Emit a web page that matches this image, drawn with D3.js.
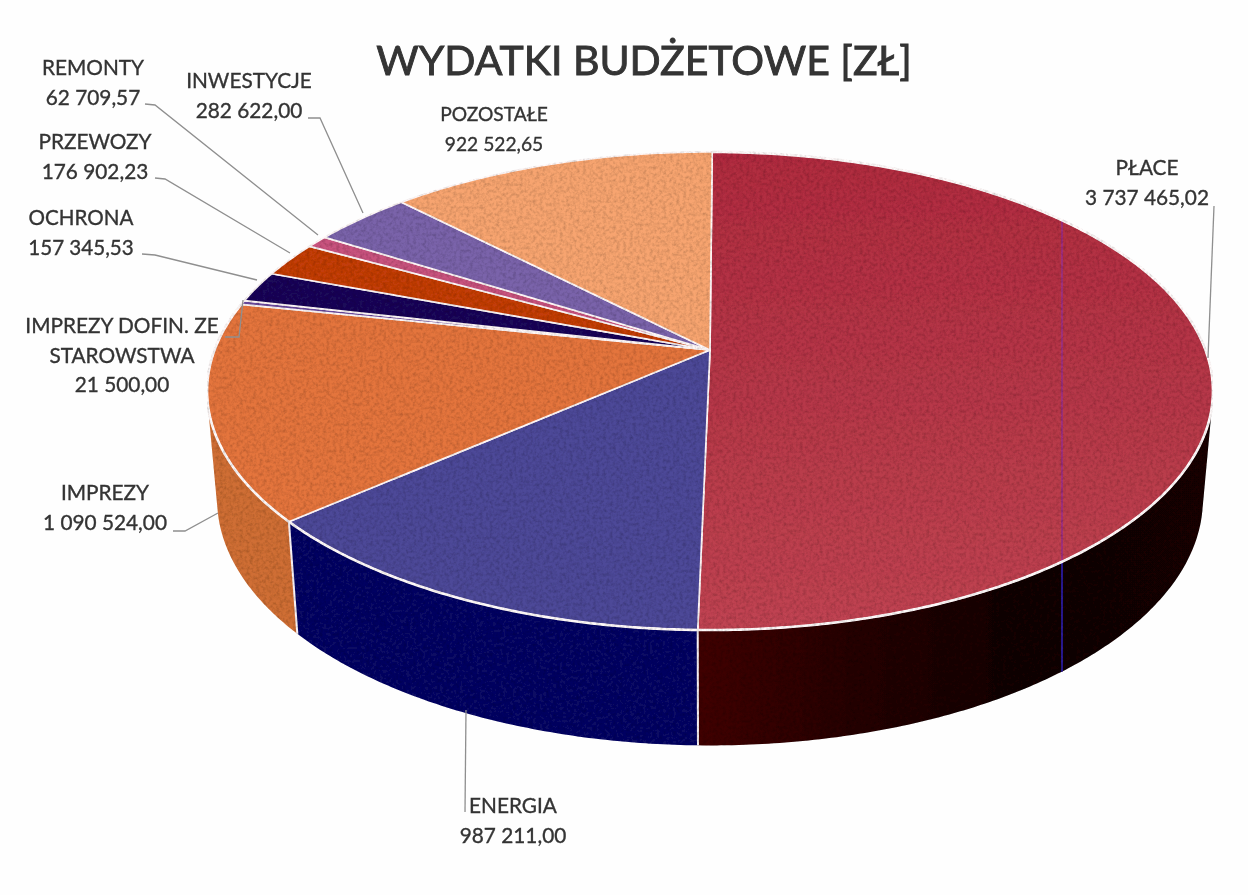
<!DOCTYPE html>
<html><head><meta charset="utf-8">
<script src="https://cdn.jsdelivr.net/npm/d3@7"></script>
<style>html,body{margin:0;padding:0;background:#fefefe}svg{display:block}text{font-family:Lato,"Open Sans",sans-serif;fill:#343434;stroke:#343434;stroke-width:.35px}</style>
</head><body><svg id="c" width="1248" height="895"></svg>
<script>
// ---- data ----
const titleText = "WYDATKI BUDŻETOWE [ZŁ]";
const categories = ["PŁACE","ENERGIA","IMPREZY","IMPREZY DOFIN. ZE STAROWSTWA","OCHRONA","PRZEWOZY","REMONTY","INWESTYCJE","POZOSTAŁE"];
const amounts = [3737465.02,987211.00,1090524.00,21500.00,157345.53,176902.23,62709.57,282622.00,922522.65];
const topColors = ["url(#gPlace)","#4e4898","#e4753e","#6a4a9c","#1e0c58","#c23c0c","#c8527e","#7a64aa","#f7a470"];
const wallColors = ["url(#gPlaceW)","#0f1064","#cf6e36","#3a2060","#0e0630","#6a2008","#702c45","#40305e","#8a5a40"];
// ---- layout (label placement, separate from data) ----
const labelLines = [["PŁACE"],["ENERGIA"],["IMPREZY"],["IMPREZY DOFIN. ZE","STAROWSTWA"],["OCHRONA"],["PRZEWOZY"],["REMONTY"],["INWESTYCJE"],["POZOSTAŁE"]];
const labelAnchors = [[1147,175],[513,813],[105,500],[122,333],[81,225],[95,149],[93,75],[249,88],[494,121]];
const labelSizes = [20.8,20.8,20.8,20.8,20.6,20.8,20.8,20.8,19.2];
const leaders = [
 [[1214,206],[1208,358]],
 [[465,812],[466,710]],
 [[173,531],[185,531],[218,513]],
 [[225,337],[239,337],[243,300]],
 [[142,254],[155,255],[257,280]],
 [[155,178],[165,179],[290,253]],
 [[145,104],[155,105],[318,235]],
 [[308,118],[320,118],[363,213]],
 []
];
const lineGap = 29.5;
// perspective disc projection
const cx=710, apexY=350, persp=0.1715, rx=495.5, ry=232;
const lowerSX=0.98, lowerSY=1.03, lowerDY=107;
const rot = 0.3*Math.PI/180;
function topPt(a,r=1){const u=Math.sin(a)*r,v=Math.cos(a)*r,w=1+persp*v;return [cx+rx*u/w,apexY-ry*v/w];}
function lowPt(a){const p=topPt(a);return [cx+(p[0]-cx)*lowerSX,apexY+(p[1]-apexY)*lowerSY+lowerDY];}
const arcSamples=(a0,a1)=>{const n=Math.max(2,Math.ceil((a1-a0)/0.01));return d3.range(n+1).map(i=>a0+(a1-a0)*i/n);};
const line=d3.line();
const pie=d3.pie().sort(null).startAngle(rot).endAngle(rot+2*Math.PI);
const arcs=pie(amounts);
const topPath=d=>line([[cx,apexY],...arcSamples(d.startAngle,d.endAngle).map(a=>topPt(a))])+"Z";
const rimPath=d=>line(arcSamples(d.startAngle,d.endAngle).map(a=>topPt(a)));
// wall = union of small quads, all wound the same way so the silhouette fills
const wallPath=d=>d3.pairs(arcSamples(d.startAngle,d.endAngle)).map(([a,b])=>{
  const q=[topPt(a),topPt(b),lowPt(b),lowPt(a)];
  if(d3.polygonArea(q)<0)q.reverse();
  return line(q)+"Z";
}).join("");

const fmt=d3.formatLocale({decimal:",",thousands:" ",grouping:[3],currency:["","zł"]}).format(",.2f");

const svg=d3.select("#c");
const defs=svg.append("defs");
function grad(id,stops){const g=defs.append("linearGradient").attr("id",id).attr("gradientUnits","userSpaceOnUse").attr("x1",690).attr("x2",1215).attr("y1",0).attr("y2",0);
 stops.forEach(([o,c])=>g.append("stop").attr("offset",o).attr("stop-color",c));}
grad("gPlaceW",[[0,"#420206"],[0.3,"#280206"],[0.6,"#180204"],[1,"#1a0305"]]);
const gp=defs.append("linearGradient").attr("id","gPlace").attr("gradientUnits","userSpaceOnUse").attr("x1",0).attr("x2",0).attr("y1",150).attr("y2",630);
[[0,"#b02c40"],[0.5,"#b63848"],[1,"#c04452"]].forEach(([o,c])=>gp.append("stop").attr("offset",o).attr("stop-color",c));
const f=defs.append("filter").attr("id","grain").attr("x",0).attr("y",0).attr("width",1).attr("height",1);
f.append("feTurbulence").attr("type","fractalNoise").attr("baseFrequency",0.3).attr("numOctaves",3).attr("seed",4).attr("result","n");
f.append("feColorMatrix").attr("in","n").attr("type","matrix").attr("values","0 0 0 0 0  0 0 0 0 0  0 0 0 0 0  0.7 0 0 0 -0.27").attr("result","na");
f.append("feComposite").attr("in","na").attr("in2","SourceAlpha").attr("operator","in").attr("result","nc");
f.append("feMerge").call(m=>{m.append("feMergeNode").attr("in","SourceGraphic");m.append("feMergeNode").attr("in","nc");});
const soft=defs.append("filter").attr("id","soft");
soft.append("feGaussianBlur").attr("stdDeviation",0.5);
defs.append("clipPath").attr("id","cTop").append("path").attr("d",topPath(arcs[0]));
defs.append("clipPath").attr("id","cWall").append("path").attr("d",wallPath(arcs[0]));

const root=svg.append("g").attr("filter","url(#soft)");
const pieG=root.append("g").attr("filter","url(#grain)");
// side walls: only the slices that face the viewer
const front=arcs.filter((d,i)=>i<3);
pieG.selectAll("path.wall").data(front).join("path").attr("class","wall")
  .attr("d",wallPath).attr("fill",d=>wallColors[d.index]);
// scan streak on wall
const streakX=1062;
pieG.append("line").attr("x1",streakX).attr("x2",streakX).attr("y1",150).attr("y2",700).attr("stroke","#2a1a90").attr("stroke-width",2).attr("clip-path","url(#cWall)");
// white separators between wall faces
pieG.selectAll("line.sep").data(arcs.slice(0,2)).join("line").attr("class","sep")
  .attr("x1",d=>topPt(d.endAngle)[0]).attr("y1",d=>topPt(d.endAngle)[1])
  .attr("x2",d=>lowPt(d.endAngle)[0]).attr("y2",d=>lowPt(d.endAngle)[1])
  .attr("stroke","#f8f2f6").attr("stroke-width",2);
// top faces
pieG.selectAll("path.top").data(arcs).join("path").attr("class","top")
  .attr("d",topPath).attr("fill",d=>topColors[d.index])
  .attr("stroke","#fff8f8").attr("stroke-width",1.7).attr("stroke-linejoin","round");
pieG.append("line").attr("x1",streakX).attr("x2",streakX).attr("y1",150).attr("y2",700).attr("stroke","#9a3088").attr("stroke-width",2).attr("clip-path","url(#cTop)").attr("opacity",.8);
// heavier white rim along the front edge
pieG.selectAll("path.rim").data(front).join("path").attr("class","rim")
  .attr("d",rimPath).attr("fill","none").attr("stroke","#fffafa").attr("stroke-width",2.6);
// leaders
root.selectAll("path.leader").data(leaders.filter(l=>l.length)).join("path").attr("class","leader")
  .attr("d",l=>line(l)).attr("fill","none").attr("stroke","#8f8f8f").attr("stroke-width",1.3);
// title
root.append("text").attr("x",644).attr("y",75).attr("text-anchor","middle").attr("font-size",41).style("stroke-width",".9px").text(titleText);
// labels
const lab=root.selectAll("g.lab").data(categories).join("g").attr("class","lab")
  .attr("transform",(d,i)=>`translate(${labelAnchors[i][0]},${labelAnchors[i][1]})`);
lab.each(function(d,i){
  const rows=[...labelLines[i],fmt(amounts[i])];
  d3.select(this).selectAll("text").data(rows).join("text").attr("text-anchor","middle")
    .attr("y",(r,j)=>j*lineGap).attr("font-size",labelSizes[i]).text(r=>r);
});
</script></body></html>
